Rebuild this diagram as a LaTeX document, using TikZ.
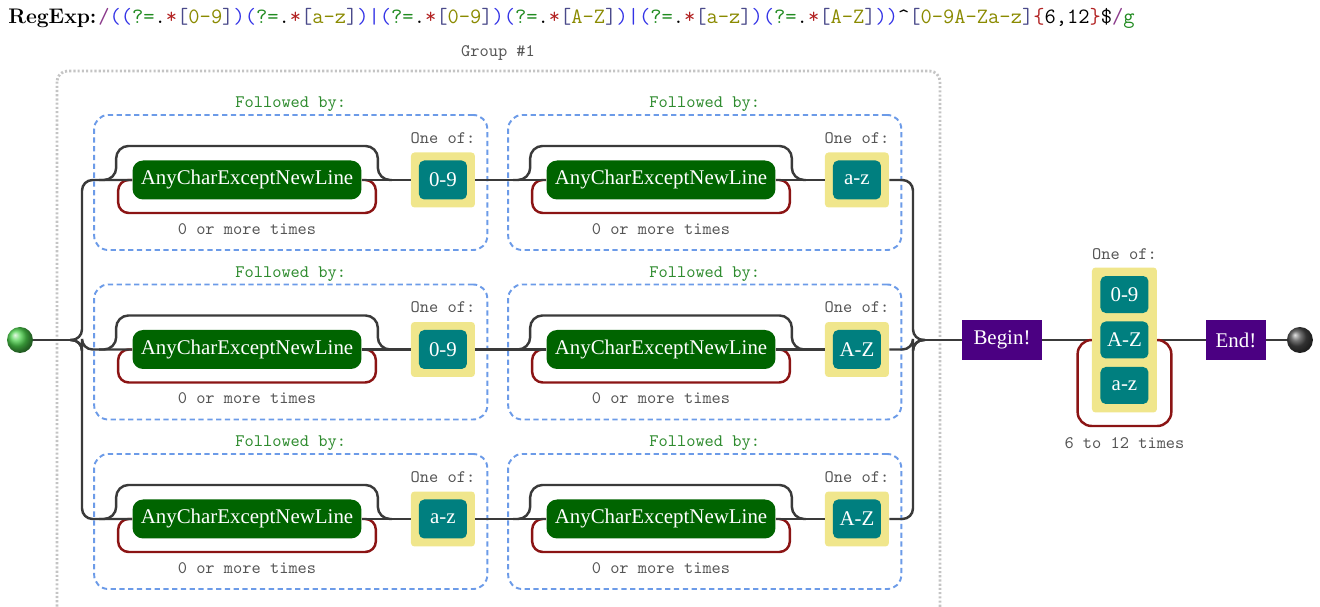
\documentclass[tikz,border=0pt]{standalone}
\usepackage{fontspec}
\usepackage{tikz}
\usetikzlibrary{positioning,fit,calc}

\newfontfamily\boxfont{Liberation Serif}

\definecolor{railgray}{HTML}{3A3A3A}
\definecolor{loopred}{HTML}{8B1414}
\definecolor{anygreen}{HTML}{006400}
\definecolor{setteal}{HTML}{007F7F}
\definecolor{oneyellow}{HTML}{F0E68C}
\definecolor{fbblue}{HTML}{6C9BE8}
\definecolor{groupgray}{HTML}{C4C4C4}
\definecolor{anchorpurple}{HTML}{4B0082}
\definecolor{taggray}{HTML}{555555}
\definecolor{fbgreen}{HTML}{2E8B2E}
\definecolor{ballgreen}{HTML}{4CD04C}
\definecolor{rxblue}{HTML}{3333E6}
\definecolor{rxgreen}{HTML}{1F8A1F}
\definecolor{rxred}{HTML}{B22222}
\definecolor{rxolive}{HTML}{8A8A00}
\definecolor{rxslate}{HTML}{4A4A8A}
\definecolor{rxpurple}{HTML}{8B3A8B}

\newcommand{\rxb}[1]{\textcolor{rxblue}{#1}}
\newcommand{\rxla}[1]{\rxb{(}\textcolor{rxgreen}{?=}.\textcolor{rxred}{*}\textcolor{rxslate}{[}\textcolor{rxolive}{#1}\textcolor{rxslate}{]}\rxb{)}}

\tikzset{
  rail/.style={draw=railgray, line width=1.4pt},
  redloop/.style={draw=loopred, line width=1.4pt, rounded corners=6pt},
  anychar/.style={fill=anygreen, text=white, rounded corners=6pt, minimum width=4.58cm, minimum height=0.78cm, inner sep=0pt, font=\boxfont\fontsize{11.9}{13}\selectfont},
  charbox/.style={fill=setteal, text=white, rounded corners=3pt, minimum width=0.96cm, minimum height=0.78cm, inner sep=0pt, font=\boxfont\fontsize{11.9}{13}\selectfont},
  oneofbox/.style={fill=oneyellow, rounded corners=2pt, minimum width=1.28cm, minimum height=1.1cm, inner sep=0pt},
  anchorbox/.style={fill=anchorpurple, text=white, minimum width=1.6cm, minimum height=0.8cm, inner sep=0pt, font=\boxfont\fontsize{11.9}{13}\selectfont},
  lookahead/.style={draw=fbblue, line width=1.1pt, dash pattern=on 3pt off 2pt, rounded corners=8pt, inner sep=0pt},
  groupbox/.style={draw=groupgray, line width=1.6pt, dash pattern=on 1.2pt off 1.2pt, rounded corners=6pt},
  tag/.style={text=taggray, font=\ttfamily\fontsize{10}{12}\selectfont},
  followtag/.style={text=fbgreen, font=\ttfamily\fontsize{10}{12}\selectfont},
  dot/.style={circle, shading=ball, minimum size=0.52cm, inner sep=0pt}
}

\begin{document}
\begin{tikzpicture}[x=0.02cm, y=-0.02cm, node distance=1cm, on grid]
  \useasboundingbox (0,0) rectangle (1320,607);
  \clip (0,0) rectangle (1320,607);

  \node[anchor=west, inner sep=0pt, font=\rmfamily\bfseries\fontsize{12}{14}\selectfont] (rxtitle) at (8,18) {RegExp:};
  \node[anchor=west, inner sep=0pt, font=\ttfamily\fontsize{12.45}{14}\selectfont] (rxtext) at (98,18) {\textcolor{rxpurple}{/}\rxb{(}\rxla{0-9}\rxla{a-z}\rxb{|}\rxla{0-9}\rxla{A-Z}\rxb{|}\rxla{a-z}\rxla{A-Z}\rxb{)}\textasciicircum\textcolor{rxslate}{[}\textcolor{rxolive}{0-9A-Za-z}\textcolor{rxslate}{]}\textcolor{rxred}{\{}6,12\textcolor{rxred}{\}}\$\textcolor{rxpurple}{/}\textcolor{rxgreen}{g}};

  \draw[groupbox] (57,71) rectangle (940,660);
  \node[tag] (grouptag) at (498,53) {Group \#1};

  \node[dot, ball color=ballgreen] (start) at (20,340) {};
  \coordinate (lsplit) at (70,340);
  \coordinate (lbus) at (82,340);
  \coordinate (rbus) at (913,340);
  \coordinate (rsplit) at (925,340);
  \draw[rail] (start) -- (lsplit);

  \foreach \rw/\yr/\seta/\setb in {1/180/0-9/a-z, 2/349.5/0-9/A-Z, 3/519/a-z/A-Z} {
    \foreach \cl/\xc/\txt in {a/247/\seta, b/661/\setb} {
      \node[anychar] (any\rw\cl) at (\xc,\yr) {AnyCharExceptNewLine};
      \node[oneofbox, right=3.92cm of any\rw\cl] (one\rw\cl) {};
      \node[charbox] (set\rw\cl) at (one\rw\cl) {\txt};
      \node[tag, above=0.84cm of one\rw\cl] {One of:};
      \node[tag, below=0.98cm of any\rw\cl] {0 or more times};
      \node[lookahead, fit={($(any\rw\cl.west)+(-38,-65)$) ($(one\rw\cl.east)+(12,70)$)}, label={[followtag, yshift=-0.08cm]above:Followed by:}] (fb\rw\cl) {};
      \draw[rail, rounded corners=7pt] ($(any\rw\cl.west)+(-33,0)$) -| ($(any\rw\cl.west)+(-16,-34)$) -| ($(any\rw\cl.east)+(16,0)$) -- ($(any\rw\cl.east)+(30,0)$);
      \draw[redloop] (any\rw\cl.east) -| ($(any\rw\cl.east)+(14,33)$) -| ($(any\rw\cl.west)+(-14,0)$) -- (any\rw\cl.west);
      \draw[rail] (any\rw\cl) -- (one\rw\cl);
    }
    \draw[rail] (one\rw a) -- (any\rw b);
    \draw[rail, rounded corners=6pt] (lsplit) -| (lbus |- any\rw a.west) -- (any\rw a.west);
    \draw[rail, rounded corners=6pt] (one\rw b.east) -| (rbus) -- (rsplit);
  }

  \node[anchorbox] (begin) at (1002,340) {Begin!};
  \node[oneofbox, minimum width=1.3cm, minimum height=2.9cm, right=2.45cm of begin] (fin) {};
  \node[charbox, minimum height=0.74cm] (finAZ) at (fin) {A-Z};
  \node[charbox, minimum height=0.74cm, above=0.91cm of finAZ] (fin09) {0-9};
  \node[charbox, minimum height=0.74cm, below=0.91cm of finAZ] (finaz) {a-z};
  \node[tag, above=1.72cm of fin] {One of:};
  \node[tag, below=2.06cm of fin] {6 to 12 times};
  \node[anchorbox, minimum width=1.2cm, right=4.68cm of begin] (end) {End!};
  \node[dot, ball color=gray!55!black, right=1.28cm of end] (enddot) {};

  \draw[rail] (rsplit) -- (begin);
  \draw[rail] (begin) -- (fin);
  \draw[rail] (fin) -- (end);
  \draw[rail] (end) -- (enddot);
  \draw[redloop, rounded corners=8pt] (fin.east) -| ($(fin.east)+(14,86)$) -| ($(fin.west)+(-14,0)$) -- (fin.west);
\end{tikzpicture}
\end{document}
